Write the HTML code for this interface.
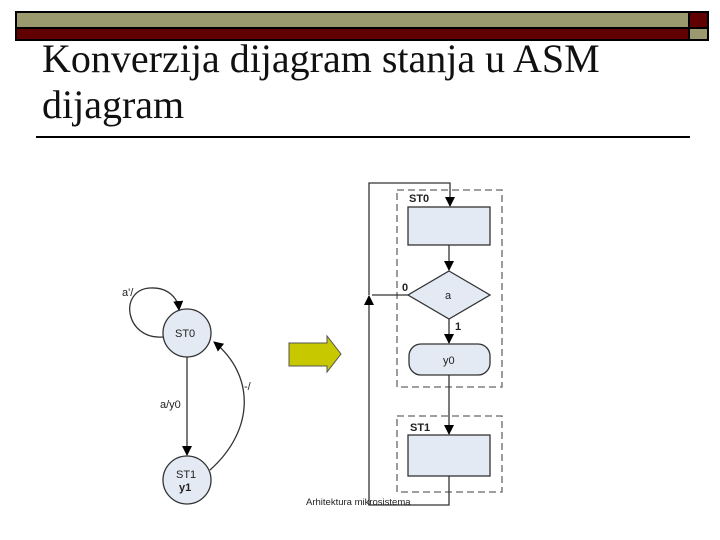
<!DOCTYPE html>
<html><head><meta charset="utf-8"><style>
body{margin:0;width:720px;height:540px;background:#fff;overflow:hidden;position:relative;font-family:"Liberation Sans",sans-serif}
.t{position:absolute;left:42px;font-family:"Liberation Serif",serif;font-size:40px;color:#111;line-height:46px;white-space:nowrap}
</style></head><body>
<svg width="720" height="540" style="position:absolute;left:0;top:0">
<rect x="16" y="12" width="673" height="16" fill="#9a9a6e" stroke="#000" stroke-width="2"/>
<rect x="16" y="28" width="673" height="12" fill="#600000" stroke="#000" stroke-width="2"/>
<rect x="689" y="12" width="19" height="16" fill="#600000" stroke="#000" stroke-width="2"/>
<rect x="689" y="28" width="19" height="12" fill="#9a9a6e" stroke="#000" stroke-width="2"/>
<line x1="36" y1="137" x2="690" y2="137" stroke="#000" stroke-width="2"/>
<defs><marker id="a" markerWidth="10" markerHeight="10" refX="9" refY="5" orient="auto" markerUnits="userSpaceOnUse"><path d="M0,0L10,5L0,10z" fill="#000"/></marker></defs>
<g stroke="#333" stroke-width="1.3" fill="none">
<path d="M163,337 C125,340 118,290 150,288 C168,287 178,298 179,310" marker-end="url(#a)"/>
<line x1="187" y1="357" x2="187" y2="455" marker-end="url(#a)"/>
<path d="M210,470 C255,430 255,375 214,342" marker-end="url(#a)"/>
</g>
<circle cx="187" cy="333" r="24" fill="#e4eaf4" stroke="#333" stroke-width="1.3"/>
<circle cx="187" cy="480" r="24" fill="#e4eaf4" stroke="#333" stroke-width="1.3"/>
<g font-size="11" fill="#222">
<text x="122" y="296">a'/</text>
<text x="175" y="337">ST0</text>
<text x="160" y="408">a/y0</text>
<text x="244" y="390">-/</text>
<text x="176" y="478">ST1</text>
<text x="179" y="491" font-weight="bold">y1</text>
</g>
<path d="M289,343 H327 V336 L341,354 L327,372 V366 H289 Z" fill="#c8c800" stroke="#555" stroke-width="1"/>
<g stroke="#666" stroke-width="1.3" fill="none" stroke-dasharray="7,4">
<rect x="397" y="190" width="105" height="197"/>
<rect x="397" y="416" width="105" height="76"/>
</g>
<g stroke="#333" stroke-width="1.3" fill="none">
<path d="M369,295 V183 H450 V206" marker-end="url(#a)"/>
<line x1="449" y1="245" x2="449" y2="270" marker-end="url(#a)"/>
<line x1="449" y1="319" x2="449" y2="343" marker-end="url(#a)"/>
<line x1="449" y1="375" x2="449" y2="434" marker-end="url(#a)"/>
<path d="M408,295 H372"/>
<path d="M449,476 V505 H369 V296" marker-end="url(#a)"/>
</g>
<g fill="#e4eaf4" stroke="#333" stroke-width="1.3">
<rect x="408" y="207" width="82" height="38"/>
<path d="M449,271 L490,295 L449,319 L408,295Z"/>
<rect x="409" y="344" width="81" height="31" rx="12"/>
<rect x="408" y="435" width="82" height="41"/>
</g>
<g font-size="11" fill="#222">
<text x="409" y="202" font-weight="bold">ST0</text>
<text x="402" y="291" font-weight="bold">0</text>
<text x="445" y="299">a</text>
<text x="455" y="330" font-weight="bold">1</text>
<text x="443" y="364">y0</text>
<text x="410" y="431" font-weight="bold">ST1</text>
<text x="306" y="505" font-size="9.5">Arhitektura mikrosistema</text>
</g>
</svg>
<div class="t" style="top:36px">Konverzija dijagram stanja u ASM</div>
<div class="t" style="top:82px">dijagram</div>
</body></html>
